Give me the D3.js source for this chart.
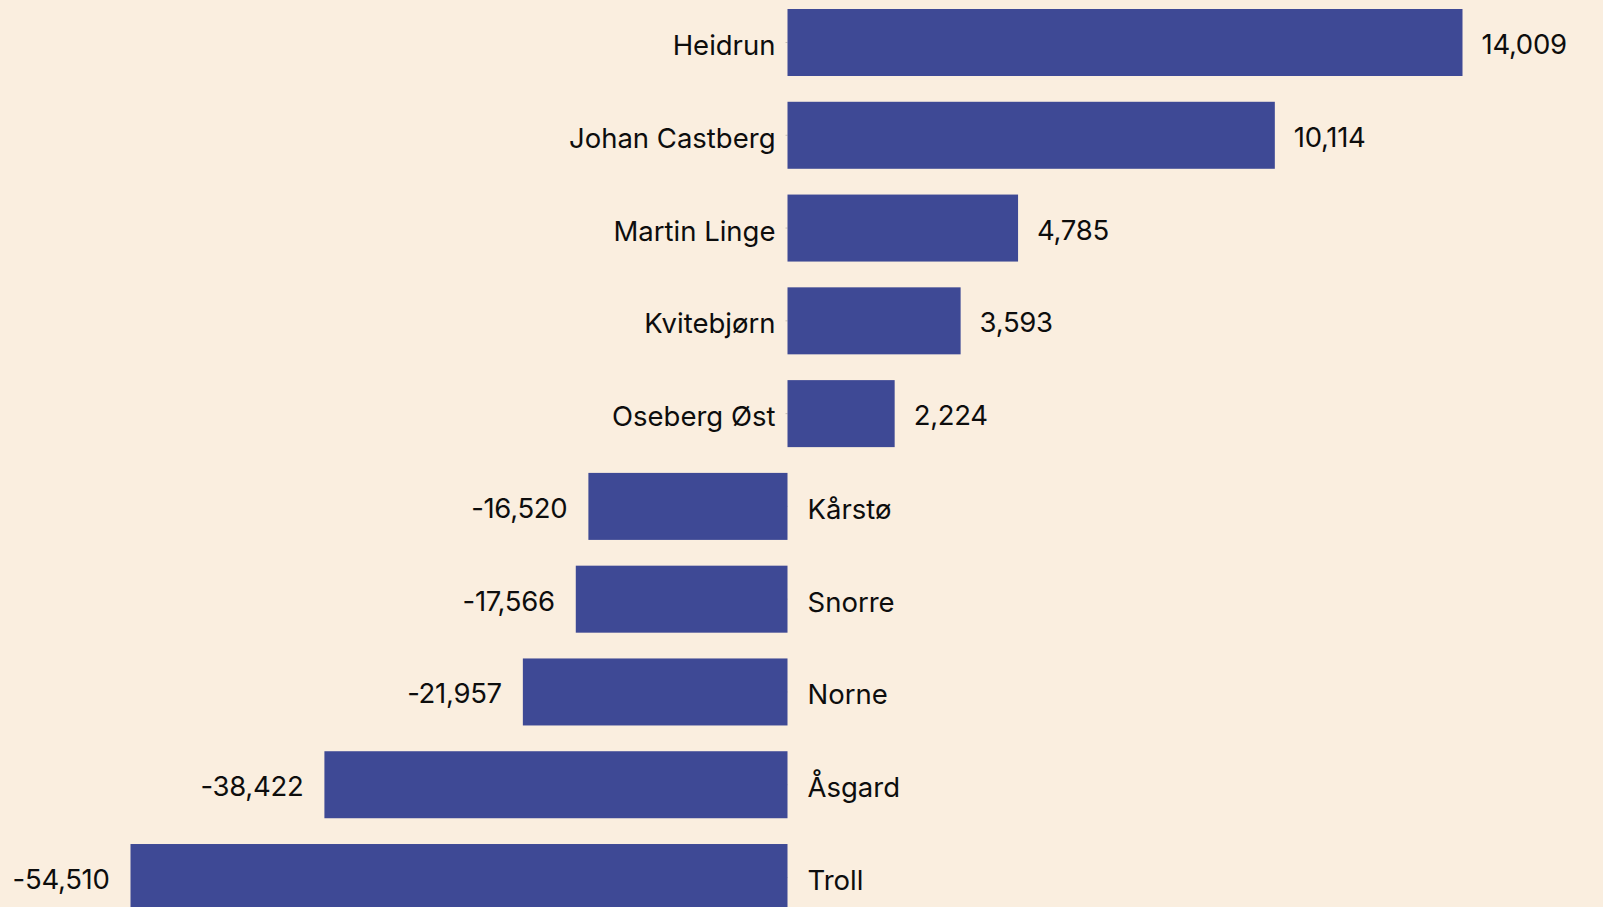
<!DOCTYPE html>
<html>
<head>
<meta charset="utf-8">
<script src="https://cdn.jsdelivr.net/npm/d3@7"></script>
<style>
  html, body { margin: 0; padding: 0; background: #FAEEDF; overflow: hidden; }
  svg { display: block; }
  text { font-family: Inter, "Open Sans", sans-serif; fill: #0d0d0d; }
</style>
</head>
<body>
<svg id="chart" width="1603" height="907"></svg>
<script>
// ---- data ----
const fields = ["Heidrun", "Johan Castberg", "Martin Linge", "Kvitebjørn", "Oseberg Øst",
                "Kårstø", "Snorre", "Norne", "Åsgard", "Troll"];
const values = [14009, 10114, 4785, 3593, 2224, -16520, -17566, -21957, -38422, -54510];

// ---- layout ----
const W = 1603, H = 907;
const zeroX = 787.5;
const posExtent = 675;   // pixel length of the largest positive bar
const negExtent = 657;   // pixel length of the largest negative bar
const bandTop = 9, bandStep = 92.78, bandH = 67;
const fontSize = 27.5;
const barColor = "#3E4995";

const data = fields.map((f, i) => ({ name: f, value: values[i] }));

const svg = d3.select("#chart");
svg.append("rect").attr("width", W).attr("height", H).attr("fill", "#FAEEDF");

const y = d3.scaleBand()
  .domain(fields)
  .range([bandTop, bandTop + (fields.length - 1) * bandStep + bandH])
  .paddingInner(1 - bandH / bandStep)
  .paddingOuter(0);

const xPos = d3.scaleLinear().domain([0, d3.max(values)]).range([zeroX, zeroX + posExtent]);
const xNeg = d3.scaleLinear().domain([0, d3.min(values)]).range([zeroX, zeroX - negExtent]);
const xOf = v => v >= 0 ? xPos(v) : xNeg(v);

// faint axis ticks at zero
const axis = svg.append("g")
  .attr("transform", `translate(${zeroX},0)`)
  .call(d3.axisLeft(y).tickSize(2).tickSizeOuter(0).tickFormat(""));
axis.select(".domain").remove();
axis.selectAll("line").attr("stroke", "#c8c0b4");

// bars
svg.append("g").selectAll("rect")
  .data(data)
  .join("rect")
  .attr("x", d => Math.min(xOf(d.value), zeroX))
  .attr("y", d => y(d.name))
  .attr("width", d => Math.abs(xOf(d.value) - zeroX))
  .attr("height", y.bandwidth())
  .attr("fill", barColor);

const fmt = v => d3.format(",")(v).replace("\u2212", "-");
const mid = d => y(d.name) + y.bandwidth() / 2;

// category labels
svg.append("g").selectAll("text")
  .data(data)
  .join("text")
  .attr("x", d => d.value >= 0 ? zeroX - 12 : zeroX + 20)
  .attr("y", d => mid(d) + 12.5)
  .attr("text-anchor", d => d.value >= 0 ? "end" : "start")
  .attr("font-size", fontSize)
  .text(d => d.name);

// value labels
svg.append("g").selectAll("text")
  .data(data)
  .join("text")
  .attr("x", d => d.value >= 0 ? xOf(d.value) + 19 : xOf(d.value) - 21)
  .attr("y", d => mid(d) + 11.5)
  .attr("text-anchor", d => d.value >= 0 ? "start" : "end")
  .attr("font-size", fontSize)
  .attr("letter-spacing", "-0.3px")
  .text(d => fmt(d.value));
</script>
</body>
</html>
